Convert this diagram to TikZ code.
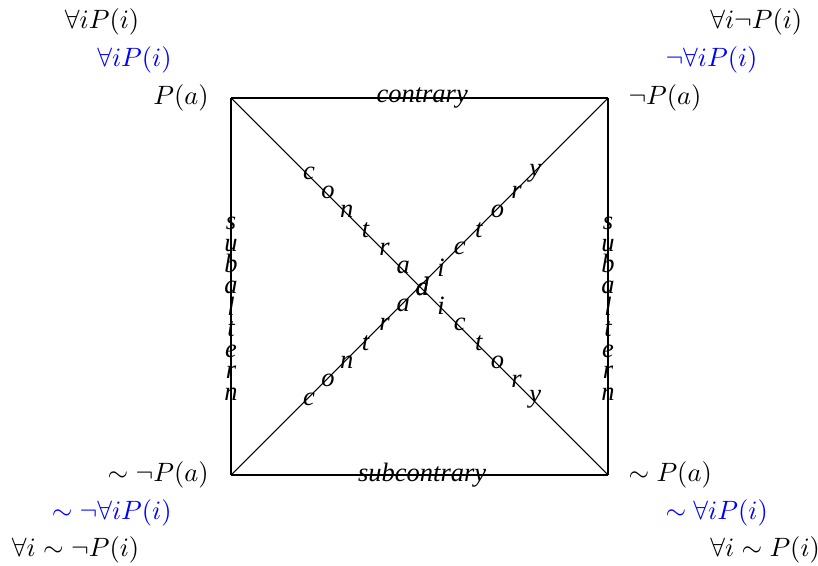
\documentclass[tikz,border=0pt]{standalone}
\usepackage{amsmath, amssymb}
\usepackage{fontspec}
\usepackage{xcolor}
\usepackage{tikz}
\newfontfamily\letterfont{Liberation Serif}

\tikzset{
  lbl/.style={inner sep=0pt},
  letter/.style={inner sep=0pt, font=\letterfont\itshape},
}

\begin{document}
\begin{tikzpicture}[>=stealth]
\useasboundingbox (-3.064,-1.194) rectangle (7.785,6.30);
\coordinate (A) at (0,5);
\coordinate (E) at (5,5);
\coordinate (I) at (0,0);
\coordinate (O) at (5,0);
% square
\draw[black, thick] (A) -- node[letter, xshift=1pt] (ctr) {contrary} (E);
\draw[black, thick] (I) -- node[letter, xshift=1pt] (sctr) {subcontrary} (O);
\draw[black, thick] (A) -- (I);
\draw[black, thick] (E) -- (O);
% diagonals
\draw[black] (A) -- (O);
\draw[black] (I) -- (E);
\foreach \l [count=\k from 0] in {c,o,n,t,r,a,d,i,c,t,o,r,y}{
    \node[letter, xshift=1pt] (dA-\k) at ({1+0.25*\k},{4-0.25*\k}) {\l};
    \node[letter, xshift=1pt] (dI-\k) at ({1+0.25*\k},{1+0.25*\k}) {\l};
}
\foreach \l [count=\k from 0] in {s,u,b,a,l,t,e,r,n}{
    \node[letter, anchor=base] (sA-\k) at (0,{3.25-0.282*\k}) {\l};
    \node[letter, anchor=base] (sE-\k) at (5,{3.25-0.282*\k}) {\l};
}
% corner labels
\node[lbl, anchor=east] (pa) at (-0.29,5) {$P(a)$};
\node[lbl, anchor=east, blue] (pa2) at (-0.78,5.51) {$\forall i P(i)$};
\node[lbl, anchor=east] (pa3) at (-1.21,6.01) {$\forall i P(i)$};
\node[lbl, anchor=west] (npa) at (5.265,5) {$\neg P(a)$};
\node[lbl, anchor=west, blue] (npa2) at (5.756,5.51) {$\neg\forall i P(i)$};
\node[lbl, anchor=west] (npa3) at (6.35,6.01) {$\forall i\neg P(i)$};
\node[lbl, anchor=east] (snpa) at (-0.29,0) {$\sim\neg P(a)$};
\node[lbl, anchor=east, blue] (snpa2) at (-0.78,-0.50) {$\sim\neg\forall i P(i)$};
\node[lbl, anchor=east] (snpa3) at (-1.21,-0.99) {$\forall i\sim\neg P(i)$};
\node[lbl, anchor=west] (spa) at (5.265,0) {$\sim P(a)$};
\node[lbl, anchor=west, blue] (spa2) at (5.756,-0.50) {$\sim\forall i P(i)$};
\node[lbl, anchor=west] (spa3) at (6.35,-0.99) {$\forall i\sim P(i)$};
\end{tikzpicture}
\end{document}
